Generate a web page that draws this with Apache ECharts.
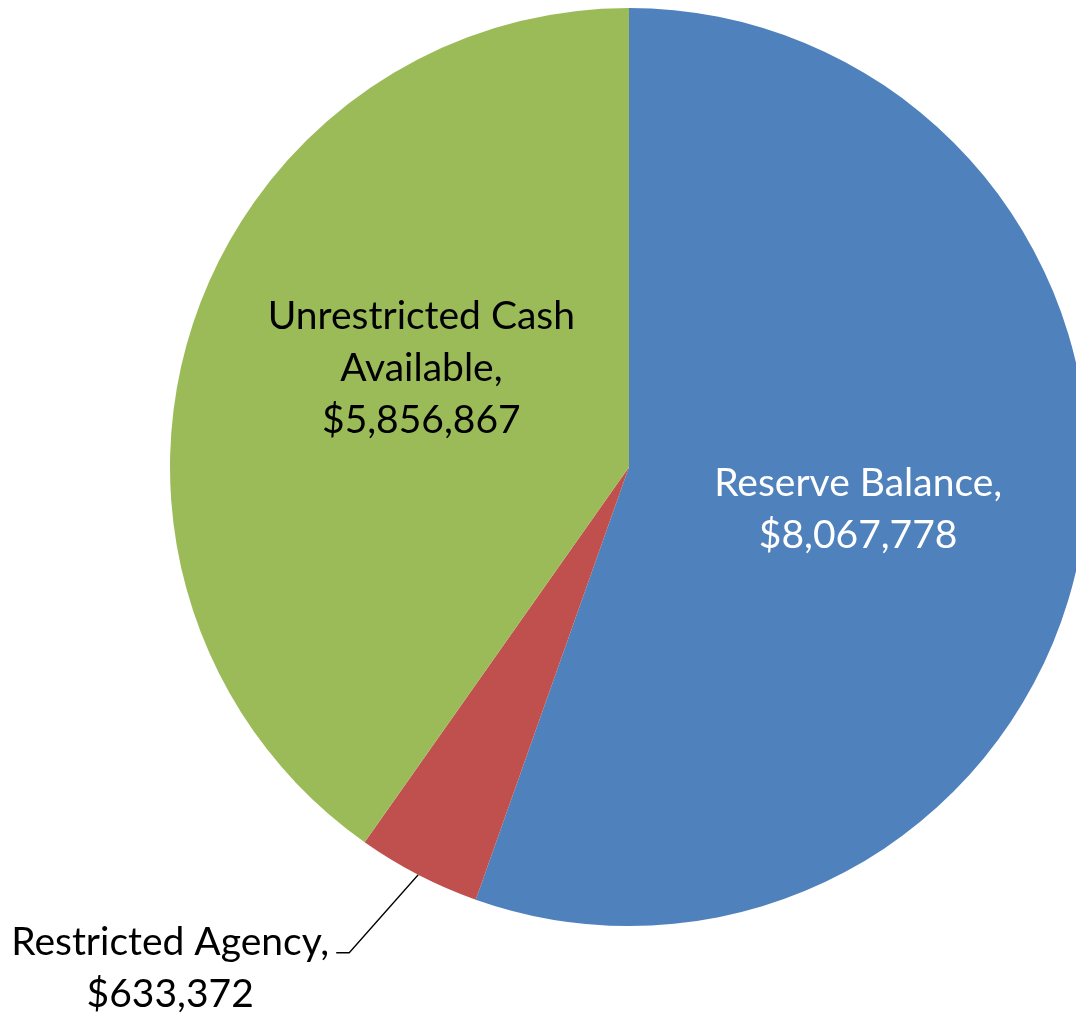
<!DOCTYPE html>
<html>
<head>
<meta charset="utf-8">
<script src="https://cdn.jsdelivr.net/npm/echarts@6/dist/echarts.min.js"></script>
<style>
html,body{margin:0;padding:0;background:#fff;}
#chart{width:1076px;height:1018px;}
</style>
</head>
<body>
<div id="chart"></div>
<script>
var categories = ['Reserve Balance', 'Restricted Agency', 'Unrestricted Cash\nAvailable'];
var values = [8067778, 633372, 5856867];
var colors = ['#4F81BD', '#C0504D', '#9BBB59'];

function fmt(v) {
  return '$' + v.toString().replace(/\B(?=(\d{3})+(?!\d))/g, ',');
}

var data = categories.map(function (c, i) {
  var item = { name: c, value: values[i], itemStyle: { color: colors[i] } };
  if (i === 1) {
    item.label = {
      position: 'outside', color: '#000',
      formatter: function (p) { return '{a|' + p.name + ',}\n{a|' + fmt(p.value) + '}'; },
      rich: { a: { width: 320, align: 'center', fontFamily: 'Lato', fontSize: 39, lineHeight: 52, color: '#000' } }
    };
    item.labelLine = { show: true, length: 100, length2: 14, smooth: false,
      lineStyle: { color: '#000', width: 1.3 } };
  } else {
    item.label = { position: 'inside', color: i === 0 ? '#fff' : '#000' };
    item.labelLine = { show: false };
  }
  return item;
});

var chart = echarts.init(document.getElementById('chart'), null, { renderer: 'canvas' });
chart.setOption({
  animation: false,
  backgroundColor: '#fff',
  series: [{
    type: 'pie',
    center: [629, 467],
    radius: [0, 459],
    startAngle: 90,
    clockwise: true,
    avoidLabelOverlap: false,
    itemStyle: { borderWidth: 0 },
    emphasis: { disabled: true },
    label: {
      show: true,
      fontFamily: 'Lato',
      fontSize: 39,
      lineHeight: 52,
      align: 'center',
      formatter: function (p) { return p.name + ',\n' + fmt(p.value); }
    },
    labelLine: { show: false },
    labelLayout: function (params) {
      if (params.dataIndex === 2) {
        return { dx: 14, dy: -28 };
      }
      if (params.dataIndex === 0) {
        return { dy: 3 };
      }
      if (params.dataIndex === 1 && params.labelLinePoints) {
        var s = params.labelLinePoints[0];
        var m = [s[0] - 69, s[1] + 78];
        var e = [m[0] - 13, m[1]];
        return {
          x: e[0] - 6,
          y: e[1] + 16,
          align: 'right',
          verticalAlign: 'middle',
          labelLinePoints: [s, m, e]
        };
      }
      return {};
    },
    data: data
  }]
});
</script>
</body>
</html>
